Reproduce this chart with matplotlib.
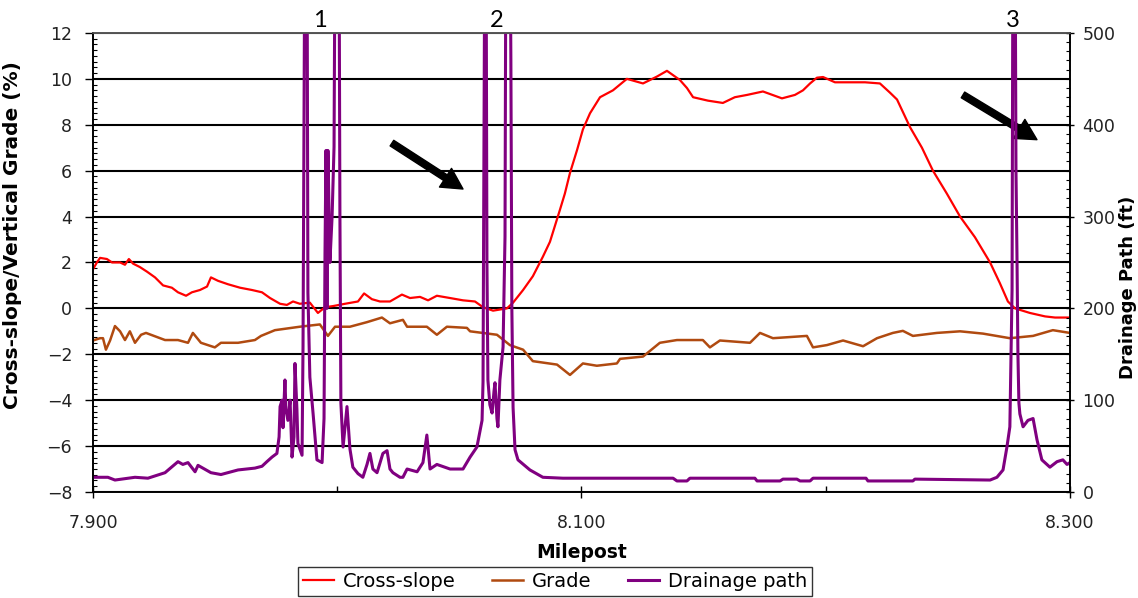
import matplotlib.pyplot as plt
from matplotlib.ticker import MultipleLocator, FixedLocator, FormatStrFormatter

# Cross-slope (%) - red curve
cs_mp = [7.9000, 7.9016, 7.9029, 7.9057, 7.9078, 7.9111, 7.9131, 7.9147, 7.9164, 7.9192,
         7.9221, 7.9254, 7.9287, 7.9323, 7.9348, 7.9381, 7.9405, 7.9438, 7.9467, 7.9483,
         7.9512, 7.9553, 7.9602, 7.9651, 7.9692, 7.9725, 7.9766, 7.9794, 7.9819, 7.9847,
         7.9888, 7.9921, 7.9950, 7.9983, 8.0032, 8.0085, 8.0110, 8.0142, 8.0175, 8.0216,
         8.0265, 8.0298, 8.0339, 8.0372, 8.0408, 8.0462, 8.0515, 8.0564, 8.0597, 8.0638,
         8.0695, 8.0720, 8.0761, 8.0801, 8.0842, 8.0871, 8.0912, 8.0932, 8.0953, 8.0982,
         8.1006, 8.1035, 8.1076, 8.1129, 8.1186, 8.1252, 8.1309, 8.1350, 8.1403, 8.1432,
         8.1457, 8.1518, 8.1579, 8.1628, 8.1678, 8.1743, 8.1821, 8.1874, 8.1907, 8.1936,
         8.1964, 8.1989, 8.2038, 8.2099, 8.2161, 8.2222, 8.2263, 8.2292, 8.2345, 8.2394,
         8.2439, 8.2496, 8.2550, 8.2611, 8.2673, 8.2713, 8.2746, 8.2775, 8.2836, 8.2898,
         8.2939, 8.3000]
cs_val = [1.7, 2.0, 2.2, 2.15, 2.0, 2.0, 1.9, 2.15, 1.95, 1.8,
          1.6, 1.35, 1.0, 0.9, 0.7, 0.55, 0.7, 0.8, 0.95, 1.35,
          1.2, 1.05, 0.9, 0.8, 0.7, 0.45, 0.2, 0.15, 0.3, 0.2,
          0.25, -0.2, 0.05, 0.1, 0.2, 0.3, 0.65, 0.4, 0.3, 0.3,
          0.6, 0.45, 0.5, 0.35, 0.55, 0.45, 0.35, 0.3, 0.05, -0.1,
          0.0, 0.25, 0.8, 1.4, 2.25, 2.9, 4.3, 5.0, 5.9, 6.9,
          7.8, 8.5, 9.2, 9.5, 10.0, 9.8, 10.1, 10.35, 9.95, 9.6,
          9.2, 9.05, 8.95, 9.2, 9.3, 9.45, 9.15, 9.3, 9.5, 9.8,
          10.05, 10.08, 9.85, 9.85, 9.85, 9.8, 9.4, 9.1, 7.9, 7.0,
          6.0, 5.0, 4.0, 3.1, 2.0, 1.1, 0.3, 0.0, -0.2, -0.35,
          -0.4, -0.4]

# Vertical grade (%) - brown curve
grade_mp = [7.9000, 7.9029, 7.9041, 7.9053, 7.9070, 7.9090, 7.9111, 7.9131, 7.9151, 7.9172,
            7.9197, 7.9217, 7.9295, 7.9348, 7.9389, 7.9409, 7.9442, 7.9499, 7.9524, 7.9594,
            7.9663, 7.9688, 7.9745, 7.9847, 7.9929, 7.9962, 7.9991, 8.0052, 8.0122, 8.0183,
            8.0216, 8.0269, 8.0286, 8.0367, 8.0408, 8.0449, 8.0531, 8.0544, 8.0654, 8.0707,
            8.0761, 8.0801, 8.0900, 8.0953, 8.1006, 8.1063, 8.1145, 8.1158, 8.1252, 8.1321,
            8.1391, 8.1497, 8.1526, 8.1567, 8.1690, 8.1731, 8.1784, 8.1923, 8.1948, 8.2005,
            8.2071, 8.2153, 8.2210, 8.2275, 8.2316, 8.2357, 8.2455, 8.2550, 8.2644, 8.2754,
            8.2849, 8.2930, 8.3000]
grade_val = [-1.4, -1.3, -1.3, -1.8, -1.4, -0.77, -1.0, -1.38, -1.0, -1.5,
             -1.15, -1.07, -1.38, -1.38, -1.5, -1.07, -1.5, -1.7, -1.5, -1.5,
             -1.38, -1.2, -0.95, -0.8, -0.7, -1.2, -0.8, -0.8, -0.6, -0.4,
             -0.65, -0.5, -0.8, -0.8, -1.15, -0.8, -0.85, -1.0, -1.15, -1.6,
             -1.8, -2.3, -2.45, -2.9, -2.4, -2.5, -2.4, -2.2, -2.1, -1.5,
             -1.38, -1.38, -1.7, -1.4, -1.5, -1.07, -1.3, -1.2, -1.7, -1.6,
             -1.4, -1.65, -1.3, -1.07, -0.98, -1.2, -1.07, -1.0, -1.1, -1.3,
             -1.2, -0.95, -1.07]

# Drainage path length (ft) - purple curve, right axis
drain_mp = [7.9000, 7.9061, 7.9090, 7.9172, 7.9225, 7.9295, 7.9348, 7.9368, 7.9389, 7.9418,
            7.9430, 7.9483, 7.9524, 7.9594, 7.9663, 7.9692, 7.9712, 7.9733, 7.9753, 7.9762,
            7.9766, 7.9774, 7.9778, 7.9786, 7.9790, 7.9798, 7.9807, 7.9815, 7.9823, 7.9827,
            7.9835, 7.9839, 7.9856, 7.9860, 7.9868, 7.9876, 7.9880, 7.9888, 7.9901, 7.9917,
            7.9938, 7.9946, 7.9950, 7.9954, 7.9958, 7.9962, 7.9970, 7.9979, 7.9987, 7.9991,
            8.0007, 8.0011, 8.0015, 8.0024, 8.0040, 8.0052, 8.0064, 8.0085, 8.0105, 8.0122,
            8.0134, 8.0146, 8.0163, 8.0187, 8.0204, 8.0216, 8.0228, 8.0257, 8.0269, 8.0286,
            8.0327, 8.0351, 8.0367, 8.0380, 8.0408, 8.0462, 8.0515, 8.0544, 8.0572, 8.0593,
            8.0597, 8.0601, 8.0605, 8.0609, 8.0613, 8.0617, 8.0625, 8.0634, 8.0642, 8.0646,
            8.0654, 8.0658, 8.0666, 8.0679, 8.0687, 8.0691, 8.0707, 8.0711, 8.0715, 8.0720,
            8.0728, 8.0740, 8.0789, 8.0842, 8.0924, 8.1375, 8.1391, 8.1432, 8.1444, 8.1710,
            8.1719, 8.1813, 8.1825, 8.1882, 8.1895, 8.1936, 8.1948, 8.2165, 8.2173, 8.2357,
            8.2365, 8.2673, 8.2701, 8.2726, 8.2742, 8.2754, 8.2763, 8.2767, 8.2775, 8.2779,
            8.2783, 8.2787, 8.2791, 8.2795, 8.2808, 8.2828, 8.2849, 8.2865, 8.2885, 8.2918,
            8.2947, 8.2971, 8.2988, 8.3000]
drain_ft = [16, 16, 13, 16, 15, 21, 33, 30, 32, 22,
            29, 21, 19, 24, 26, 28, 33, 38, 42, 60,
            93, 100, 70, 122, 90, 78, 100, 38, 60, 140,
            90, 53, 40, 158, 650, 650, 217, 125, 86, 35,
            32, 80, 260, 372, 200, 372, 250, 300, 376, 600,
            650, 304, 97, 49, 93, 47, 27, 20, 16, 30,
            42, 25, 21, 42, 45, 25, 21, 16, 16, 25,
            22, 32, 62, 25, 30, 25, 25, 38, 49, 78,
            120, 400, 650, 650, 250, 122, 95, 86, 110, 119,
            80, 71, 122, 158, 278, 650, 650, 470, 200, 92,
            46, 35, 24, 16, 15, 15, 12, 12, 15, 15,
            12, 12, 14, 14, 12, 12, 15, 15, 12, 12,
            14, 13, 16, 24, 49, 71, 220, 650, 650, 350,
            260, 150, 97, 85, 71, 78, 80, 57, 35, 27,
            33, 35, 30, 32]

site_labels = ["1", "2", "3"]
site_mp = [7.9929, 8.0654, 8.2767]

FONT = "DejaVu Sans"
plt.rcParams["font.family"] = FONT

fig = plt.figure(figsize=(11.38, 5.98), dpi=100)
ax = fig.add_axes([0.0817, 0.1773, 0.8585, 0.7676])
ax2 = ax.twinx()

l1, = ax.plot(cs_mp, cs_val, color="#ff0000", lw=1.6, label="Cross-slope")
l2, = ax.plot(grade_mp, grade_val, color="#b04a10", lw=1.8, label="Grade")
l3, = ax2.plot(drain_mp, drain_ft, color="#800080", lw=2.2, label="Drainage path")

ax.set_xlim(7.9, 8.3)
ax.set_ylim(-8, 12)
ax2.set_ylim(0, 500)

ax.yaxis.set_major_locator(MultipleLocator(2))
ax.yaxis.set_minor_locator(MultipleLocator(0.25))
ax2.yaxis.set_major_locator(MultipleLocator(100))
ax2.yaxis.set_minor_locator(MultipleLocator(10))
ax.xaxis.set_major_locator(FixedLocator([7.9, 8.1, 8.3]))
ax.xaxis.set_minor_locator(FixedLocator([8.0, 8.2]))
ax.xaxis.set_major_formatter(FormatStrFormatter("%.3f"))

ax.grid(True, axis="y", which="major", color="black", lw=1.5)
ax.set_axisbelow(True)

tick_col = "#222222"
ax.tick_params(axis="y", which="major", direction="out", length=6, width=1,
               pad=9, labelsize=12.5, labelcolor=tick_col)
ax.tick_params(axis="y", which="minor", direction="in", length=3, width=0.8)
ax.tick_params(axis="x", which="major", direction="inout", length=8, width=1,
               pad=12, labelsize=12.5, labelcolor=tick_col)
ax.tick_params(axis="x", which="minor", direction="in", length=4, width=1)
ax2.tick_params(axis="y", which="major", direction="inout", length=6, width=1,
                pad=6, labelsize=12.5, labelcolor=tick_col)
ax2.tick_params(axis="y", which="minor", direction="in", length=3, width=0.8)

for a in (ax, ax2):
    for s in ("left", "right", "bottom"):
        a.spines[s].set_color("black")
        a.spines[s].set_linewidth(1.2)
    a.spines["top"].set_color("#555555")
    a.spines["top"].set_linewidth(1.2)

ax.set_xlabel("Milepost", fontsize=13.5, fontweight="bold", labelpad=8)
ax.set_ylabel("Cross-slope/Vertical Grade (%)", fontsize=14.5, fontweight="bold")
ax.yaxis.set_label_coords(-0.073, 0.56)
ax2.set_ylabel("Drainage Path (ft)", fontsize=13, fontweight="bold")
ax2.yaxis.set_label_coords(1.05, 0.445)

for lab, m in zip(site_labels, site_mp):
    ax.text(m, 12.1, lab, ha="center", va="bottom", fontsize=17,
            family=["Lato", "DejaVu Sans"], color="black")

arrow = dict(arrowstyle="simple,head_length=0.75,head_width=0.8,tail_width=0.24",
             color="black", shrinkA=0, shrinkB=0, mutation_scale=20)
ax.annotate("", xy=(8.0515, 5.2), xytext=(8.0224, 7.2), arrowprops=arrow)
ax.annotate("", xy=(8.2865, 7.35), xytext=(8.2562, 9.3), arrowprops=arrow)

leg = fig.legend(handles=[l1, l2, l3], loc="lower center", ncol=3,
                 bbox_to_anchor=(0.4877, 0.004), bbox_transform=fig.transFigure,
                 fontsize=14, frameon=True, fancybox=False, edgecolor="black",
                 handlelength=1.6, handletextpad=0.45, columnspacing=1.9,
                 borderpad=0.25, borderaxespad=0)
leg.get_frame().set_linewidth(1.0)

fig.savefig("out.png", dpi=100)
